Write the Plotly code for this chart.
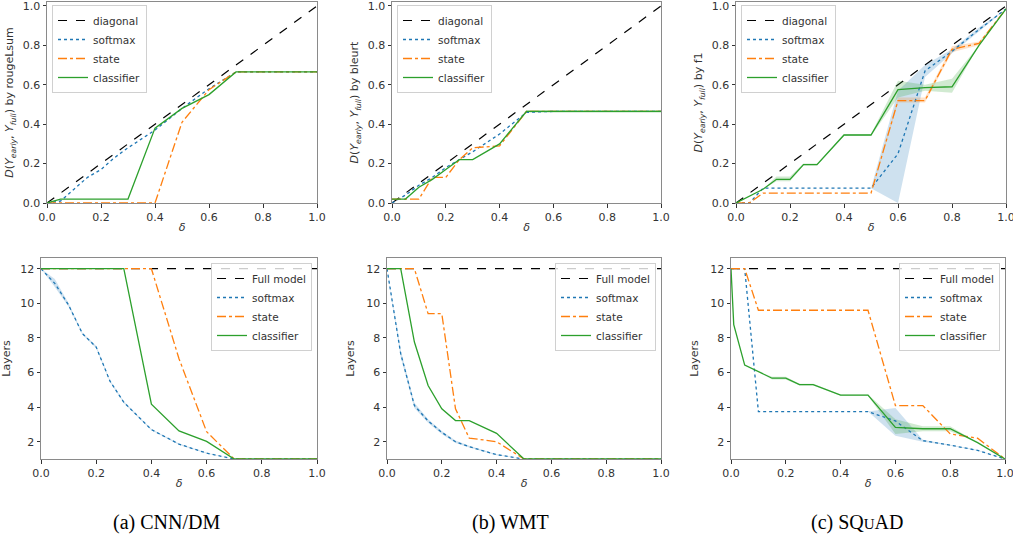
import plotly.graph_objects as go

X = [0, 0.05, 0.1, 0.15, 0.2, 0.25, 0.3, 0.4, 0.5, 0.6, 0.7, 0.8, 0.9, 1.0]
X_SQ_CLS = [0, 0.01, 0.05, 0.1, 0.15, 0.2, 0.25, 0.3, 0.4, 0.5, 0.6, 0.7, 0.8, 0.9, 1.0]
DIAG_X = [0, 1]
DIAG_Y = [0, 1]
FULL_X = [0, 1]
FULL_Y = [12, 12]

# ---- top row: D(Y_early, Y_full) ----
cnn_d_softmax = [0, 0.01, 0.07, 0.13, 0.17, 0.23, 0.28, 0.37, 0.48, 0.58, 0.665, 0.665, 0.665, 0.665]
cnn_d_state = [0, 0, 0, 0, 0, 0, 0, 0, 0.41, 0.575, 0.665, 0.665, 0.665, 0.665]
cnn_d_classifier = [0, 0.02, 0.02, 0.02, 0.02, 0.02, 0.02, 0.38, 0.48, 0.55, 0.665, 0.665, 0.665, 0.665]

wmt_d_softmax = [0, 0.04, 0.09, 0.13, 0.18, 0.22, 0.26, 0.35, 0.46, 0.465, 0.465, 0.465, 0.465, 0.465]
wmt_d_state = [0.02, 0.02, 0.02, 0.13, 0.13, 0.22, 0.28, 0.29, 0.465, 0.465, 0.465, 0.465, 0.465, 0.465]
wmt_d_classifier = [0.02, 0.02, 0.08, 0.12, 0.17, 0.22, 0.22, 0.30, 0.465, 0.465, 0.465, 0.465, 0.465, 0.465]
wmt_d_classifier_lo = [0.02, 0.02, 0.08, 0.12, 0.17, 0.22, 0.22, 0.30, 0.458, 0.458, 0.458, 0.458, 0.458, 0.458]
wmt_d_classifier_hi = [0.02, 0.02, 0.08, 0.12, 0.17, 0.22, 0.22, 0.30, 0.472, 0.472, 0.472, 0.472, 0.472, 0.472]

sq_d_softmax = [0, 0, 0.075, 0.075, 0.075, 0.075, 0.075, 0.075, 0.075, 0.25, 0.67, 0.77, 0.88, 0.985]
sq_d_softmax_lo = [0, 0, 0.075, 0.075, 0.075, 0.075, 0.075, 0.075, 0.075, 0.0, 0.64, 0.76, 0.87, 0.985]
sq_d_softmax_hi = [0, 0, 0.075, 0.075, 0.075, 0.075, 0.075, 0.075, 0.075, 0.57, 0.70, 0.78, 0.89, 0.985]
sq_d_state = [0, 0, 0.05, 0.05, 0.05, 0.05, 0.05, 0.05, 0.05, 0.52, 0.52, 0.78, 0.81, 0.985]
sq_d_state_lo = [0, 0, 0.05, 0.05, 0.05, 0.05, 0.05, 0.05, 0.05, 0.51, 0.51, 0.765, 0.80, 0.985]
sq_d_state_hi = [0, 0, 0.05, 0.05, 0.05, 0.05, 0.05, 0.05, 0.05, 0.535, 0.535, 0.795, 0.82, 0.985]
sq_d_classifier = [0, 0.035, 0.07, 0.12, 0.12, 0.195, 0.195, 0.345, 0.345, 0.575, 0.585, 0.59, 0.80, 0.985]
sq_d_classifier_lo = [0, 0.035, 0.07, 0.11, 0.11, 0.19, 0.19, 0.34, 0.34, 0.535, 0.57, 0.56, 0.80, 0.985]
sq_d_classifier_hi = [0, 0.035, 0.07, 0.135, 0.135, 0.20, 0.20, 0.35, 0.35, 0.62, 0.60, 0.63, 0.80, 0.985]

# ---- bottom row: Layers ----
cnn_l_softmax = [12, 11.15, 9.9, 8.25, 7.47, 5.5, 4.28, 2.7, 1.86, 1.34, 1.0, 1.0, 1.0, 1.0]
cnn_l_softmax_lo = [12, 10.95, 9.8, 8.2, 7.4, 5.45, 4.22, 2.66, 1.83, 1.32, 1.0, 1.0, 1.0, 1.0]
cnn_l_softmax_hi = [12, 11.4, 10.0, 8.3, 7.54, 5.55, 4.34, 2.74, 1.89, 1.36, 1.0, 1.0, 1.0, 1.0]
cnn_l_state = [12, 12, 12, 12, 12, 12, 12, 12, 6.8, 2.58, 1.0, 1.0, 1.0, 1.0]
cnn_l_classifier = [12, 12, 12, 12, 12, 12, 12, 4.17, 2.62, 2.02, 1.0, 1.0, 1.0, 1.0]

wmt_l_softmax = [12, 7.09, 4.09, 3.2, 2.54, 2.0, 1.71, 1.25, 1.0, 1.0, 1.0, 1.0, 1.0, 1.0]
wmt_l_softmax_lo = [12, 6.9, 3.95, 3.1, 2.45, 1.93, 1.66, 1.22, 1.0, 1.0, 1.0, 1.0, 1.0, 1.0]
wmt_l_softmax_hi = [12, 7.3, 4.25, 3.3, 2.62, 2.07, 1.76, 1.28, 1.0, 1.0, 1.0, 1.0, 1.0, 1.0]
wmt_l_state = [12, 12, 12, 9.4, 9.4, 3.9, 2.21, 2.0, 1.0, 1.0, 1.0, 1.0, 1.0, 1.0]
wmt_l_classifier = [12, 12, 7.76, 5.25, 3.9, 3.22, 3.22, 2.48, 1.0, 1.0, 1.0, 1.0, 1.0, 1.0]

sq_l_softmax = [12, 12, 3.74, 3.74, 3.74, 3.74, 3.74, 3.74, 3.74, 3.2, 2.06, 1.8, 1.5, 1.0]
sq_l_softmax_lo = [12, 12, 3.74, 3.74, 3.74, 3.74, 3.74, 3.74, 3.74, 2.35, 2.0, 1.78, 1.48, 1.0]
sq_l_softmax_hi = [12, 12, 3.74, 3.74, 3.74, 3.74, 3.74, 3.74, 3.74, 3.95, 2.12, 1.82, 1.52, 1.0]
sq_l_state = [12, 12, 9.6, 9.6, 9.6, 9.6, 9.6, 9.6, 9.6, 4.09, 4.09, 2.45, 2.2, 1.0]
sq_l_classifier = [12, 8.77, 6.43, 6.05, 5.67, 5.67, 5.3, 5.3, 4.69, 4.69, 2.83, 2.75, 2.75, 1.95, 1.0]
sq_l_classifier_lo = [12, 8.77, 6.43, 6.05, 5.6, 5.6, 5.25, 5.25, 4.65, 4.65, 2.45, 2.6, 2.6, 1.95, 1.0]
sq_l_classifier_hi = [12, 8.77, 6.43, 6.05, 5.75, 5.75, 5.35, 5.35, 4.73, 4.73, 3.3, 2.9, 2.9, 1.95, 1.0]

METRICS = ["rougeLsum", "bleurt", "f1"]
CAPTIONS = ["(a) CNN/DM", "(b) WMT", "(c) SQ<span style='font-size:15px'>U</span>AD"]

BLUE = "#1f77b4"
ORANGE = "#ff7f0e"
GREEN = "#2ca02c"
BAND = {BLUE: "rgba(31,119,180,0.22)", ORANGE: "rgba(255,127,14,0.22)", GREEN: "rgba(44,160,44,0.22)"}

W, H = 1013, 544
top_x = [(47, 317), (392, 661), (736, 1006)]
bot_x = [(41, 317), (387, 661), (731, 1005)]
top_y = (2, 203)
bot_y = (258, 459)

fig = go.Figure()
FONT = "DejaVu Sans"


def dom_x(px):
    return [px[0] / W, px[1] / W]


def dom_y(py):
    return [1 - py[1] / H, 1 - py[0] / H]


def add_band(xs, lo, hi, color, xa, ya):
    fig.add_trace(go.Scatter(x=xs, y=lo, mode="lines", line=dict(width=0), hoverinfo="skip",
                             showlegend=False, xaxis=xa, yaxis=ya))
    fig.add_trace(go.Scatter(x=xs, y=hi, mode="lines", line=dict(width=0), fill="tonexty",
                             fillcolor=BAND[color], hoverinfo="skip", showlegend=False,
                             xaxis=xa, yaxis=ya))


def add_line(xs, ys, name, color, dash, xa, ya, leg, width=1.3):
    fig.add_trace(go.Scatter(x=xs, y=ys, mode="lines", name=name,
                             line=dict(color=color, dash=dash, width=width),
                             xaxis=xa, yaxis=ya, legend=leg))


top_data = [
    (cnn_d_softmax, None, cnn_d_state, None, cnn_d_classifier, None),
    (wmt_d_softmax, None, wmt_d_state, None, wmt_d_classifier, (wmt_d_classifier_lo, wmt_d_classifier_hi)),
    (sq_d_softmax, (sq_d_softmax_lo, sq_d_softmax_hi), sq_d_state, (sq_d_state_lo, sq_d_state_hi),
     sq_d_classifier, (sq_d_classifier_lo, sq_d_classifier_hi)),
]
bot_data = [
    (X, cnn_l_softmax, (cnn_l_softmax_lo, cnn_l_softmax_hi), cnn_l_state, X, cnn_l_classifier, None),
    (X, wmt_l_softmax, (wmt_l_softmax_lo, wmt_l_softmax_hi), wmt_l_state, X, wmt_l_classifier, None),
    (X, sq_l_softmax, (sq_l_softmax_lo, sq_l_softmax_hi), sq_l_state, X_SQ_CLS, sq_l_classifier,
     (sq_l_classifier_lo, sq_l_classifier_hi)),
]

axis_common = dict(showline=True, mirror=True, linecolor="#8a8a8a", linewidth=1, ticks="outside",
                   ticklen=3.5, tickcolor="#333", tickwidth=1, showgrid=False, zeroline=False,
                   automargin=False, ticklabeloverflow="allow",
                   tickfont=dict(family=FONT, size=11, color="#333"),
                   title_font=dict(family=FONT, size=11, color="#333"))

legend_common = dict(bgcolor="rgba(255,255,255,0.8)", bordercolor="#d0d0d0", borderwidth=1,
                     font=dict(family=FONT, size=10.5, color="#333"), tracegroupgap=0,
                     traceorder="normal", itemwidth=30)

layout = {}
for i in range(3):
    # top
    n = i + 1
    xa, ya = f"x{n}", f"y{n}"
    leg = "legend" if n == 1 else f"legend{n}"
    sm, smb, st, stb, cl, clb = top_data[i]
    add_line(DIAG_X, DIAG_Y, "diagonal", "black", "dash", xa, ya, leg, 1.2)
    if smb:
        add_band(X, smb[0], smb[1], BLUE, xa, ya)
    if stb:
        add_band(X, stb[0], stb[1], ORANGE, xa, ya)
    if clb:
        add_band(X, clb[0], clb[1], GREEN, xa, ya)
    add_line(X, sm, "softmax", BLUE, "dot", xa, ya, leg)
    add_line(X, st, "state", ORANGE, "dashdot", xa, ya, leg)
    add_line(X, cl, "classifier", GREEN, "solid", xa, ya, leg)
    layout[f"xaxis{n}"] = dict(domain=dom_x(top_x[i]), range=[0, 1], anchor=ya,
                               tickvals=[0, 0.2, 0.4, 0.6, 0.8, 1.0], tickformat=".1f",
                               title=dict(text="<i>δ</i>", standoff=0), **axis_common)
    layout[f"yaxis{n}"] = dict(domain=dom_y(top_y), range=[0, 1.02], anchor=xa,
                               tickvals=[0, 0.2, 0.4, 0.6, 0.8, 1.0], tickformat=".1f",
                               title=dict(text=f"<i>D</i>(<i>Y</i><sub><i>early</i></sub>, <i>Y</i><sub><i>full</i></sub>) by {METRICS[i]}",
                                          standoff=6), **axis_common)
    layout[leg] = dict(x=(top_x[i][0] + 5) / W, y=1 - 5 / H, xanchor="left", yanchor="top",
                       **legend_common)

    # bottom
    n = i + 4
    xa, ya = f"x{n}", f"y{n}"
    leg = f"legend{n}"
    xs, sm, smb, st, xc, cl, clb = bot_data[i]
    add_line(FULL_X, FULL_Y, "Full model", "black", "dash", xa, ya, leg, 1.2)
    add_band(xs, smb[0], smb[1], BLUE, xa, ya)
    if clb:
        add_band(xc, clb[0], clb[1], GREEN, xa, ya)
    add_line(xs, sm, "softmax", BLUE, "dot", xa, ya, leg)
    add_line(xs, st, "state", ORANGE, "dashdot", xa, ya, leg)
    add_line(xc, cl, "classifier", GREEN, "solid", xa, ya, leg)
    layout[f"xaxis{n}"] = dict(domain=dom_x(bot_x[i]), range=[0, 1], anchor=ya,
                               tickvals=[0, 0.2, 0.4, 0.6, 0.8, 1.0], tickformat=".1f",
                               title=dict(text="<i>δ</i>", standoff=0), **axis_common)
    layout[f"yaxis{n}"] = dict(domain=dom_y(bot_y), range=[1, 12.62], anchor=xa,
                               tickvals=[2, 4, 6, 8, 10, 12],
                               title=dict(text="Layers", standoff=9), **axis_common)
    layout[leg] = dict(x=(bot_x[i][1] - 5) / W, y=1 - 263 / H, xanchor="right", yanchor="top",
                       **legend_common)

annotations = []
cap_x = [166, 510, 857]
for i in range(3):
    annotations.append(dict(text=CAPTIONS[i], x=cap_x[i] / W, y=1 - 522 / H, xref="paper", yref="paper",
                            xanchor="center", yanchor="middle", showarrow=False,
                            font=dict(family="Liberation Serif", size=20, color="black")))

fig.update_layout(width=W, height=H, margin=dict(l=0, r=0, t=0, b=0),
                  paper_bgcolor="white", plot_bgcolor="white",
                  annotations=annotations, **layout)

fig.write_html("out.html", config={"displayModeBar": False},
               post_script="document.body.style.margin='0';")
